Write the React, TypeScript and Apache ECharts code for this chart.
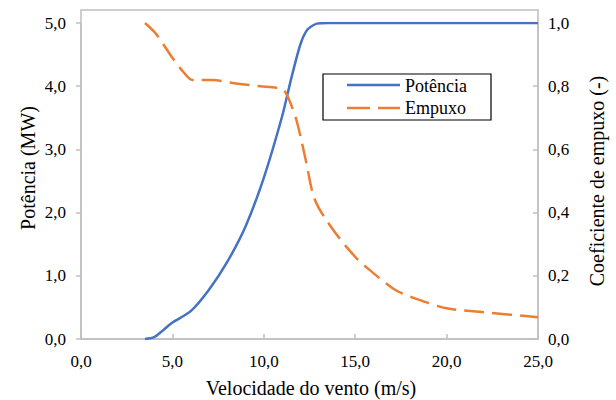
import React, { useEffect, useRef } from "react";
import * as echarts from "echarts";

const powerWind = [3.5, 4.0, 4.5, 5.0, 6.0, 7.0, 8.0, 9.0, 10.0, 11.0, 11.5, 12.0, 12.4, 12.9, 13.5, 25.0];
const powerMW = [0.0, 0.03, 0.14, 0.26, 0.44, 0.78, 1.22, 1.78, 2.55, 3.52, 4.12, 4.66, 4.9, 4.99, 5.0, 5.0];

const thrustWind = [3.5, 4.1, 5.0, 5.6, 6.1, 7.2, 8.3, 9.8, 10.7, 11.1, 11.4, 11.8, 12.3, 12.8, 13.8, 15.0, 15.8, 17.2, 18.3, 20.0, 21.8, 25.0];
const thrustCoef = [1.0, 0.966, 0.89, 0.845, 0.82, 0.82, 0.81, 0.80, 0.795, 0.787, 0.755, 0.69, 0.565, 0.44, 0.345, 0.26, 0.218, 0.155, 0.128, 0.097, 0.086, 0.069];

const legendNames = ["Potência", "Empuxo"];
const xName = "Velocidade do vento (m/s)";
const yLeftName = "Potência (MW)";
const yRightName = "Coeficiente de empuxo (-)";

const FONT = "'Times New Roman', 'Liberation Serif', serif";
const BLUE = "#4472C4";
const ORANGE = "#ED7D31";
const AXIS = "#BFBFBF";

const fmt = (v: number) => v.toFixed(1).replace(".", ",");

export default function App() {
  const ref = useRef<HTMLDivElement>(null);
  useEffect(() => {
    if (!ref.current) return;
    const chart = echarts.init(ref.current, undefined, { renderer: "svg" });
    const labelStyle = { color: "#000", fontFamily: FONT, fontSize: 17 };
    const titleStyle = { fill: "#000", fontFamily: FONT, fontSize: 20, align: "center", verticalAlign: "middle" };
    chart.setOption({
      animation: false,
      backgroundColor: "#fff",
      textStyle: { fontFamily: FONT },
      grid: { left: 81, right: 78, top: 23, bottom: 61 },
      xAxis: {
        type: "value",
        min: 0,
        max: 25,
        interval: 5,
        axisLine: { lineStyle: { color: AXIS, width: 1.5 } },
        axisTick: { inside: true, length: 5, lineStyle: { color: AXIS, width: 1.5 } },
        axisLabel: { ...labelStyle, margin: 14, formatter: fmt },
        splitLine: { show: false },
      },
      yAxis: [
        {
          type: "value",
          min: 0,
          max: 5,
          interval: 1,
          axisLine: { show: true, lineStyle: { color: AXIS, width: 1.5 } },
          axisTick: { show: true, length: 5, lineStyle: { color: AXIS, width: 1.5 } },
          axisLabel: { ...labelStyle, margin: 15, formatter: fmt },
          splitLine: { show: false },
        },
        {
          type: "value",
          min: 0,
          max: 1,
          interval: 0.2,
          position: "right",
          axisLine: { show: true, lineStyle: { color: AXIS, width: 1.5 } },
          axisTick: { show: true, inside: true, length: 5, lineStyle: { color: AXIS, width: 1.5 } },
          axisLabel: { ...labelStyle, margin: 10, formatter: fmt },
          splitLine: { show: false },
        },
      ],
      series: [
        {
          name: legendNames[0],
          type: "line",
          yAxisIndex: 0,
          smooth: 0.25,
          showSymbol: false,
          symbol: "none",
          lineStyle: { color: BLUE, width: 2.5 },
          data: powerWind.map((x, i) => [x, powerMW[i]]),
        },
        {
          name: legendNames[1],
          type: "line",
          yAxisIndex: 1,
          smooth: 0.3,
          showSymbol: false,
          symbol: "none",
          lineStyle: { color: ORANGE, width: 2.5, type: [20, 8] },
          data: thrustWind.map((x, i) => [x, thrustCoef[i]]),
        },
      ],
      graphic: [
        {
          type: "rect",
          shape: { x: 81, y: 10, width: 457, height: 329 },
          style: { fill: "none", stroke: AXIS, lineWidth: 1.5 },
          silent: true,
        },
        { type: "text", x: 311, y: 388, style: { ...titleStyle, text: xName } },
        { type: "text", x: 28, y: 168, rotation: Math.PI / 2, style: { ...titleStyle, text: yLeftName } },
        { type: "text", x: 597, y: 181, rotation: Math.PI / 2, style: { ...titleStyle, text: yRightName } },
        {
          type: "rect",
          shape: { x: 323, y: 74, width: 168, height: 46 },
          style: { fill: "#fff", stroke: "#000", lineWidth: 1.2 },
          z: 10,
        },
        {
          type: "line",
          shape: { x1: 347, y1: 85, x2: 400, y2: 85 },
          style: { stroke: BLUE, lineWidth: 2.5 },
          z: 11,
        },
        {
          type: "line",
          shape: { x1: 347, y1: 108, x2: 400, y2: 108 },
          style: { stroke: ORANGE, lineWidth: 2.5, lineDash: [23, 8] },
          z: 11,
        },
        {
          type: "text",
          x: 405,
          y: 86,
          style: { text: legendNames[0], fill: "#000", fontFamily: FONT, fontSize: 18, verticalAlign: "middle" },
          z: 11,
        },
        {
          type: "text",
          x: 405,
          y: 108,
          style: { text: legendNames[1], fill: "#000", fontFamily: FONT, fontSize: 18, verticalAlign: "middle" },
          z: 11,
        },
      ],
    });
    return () => chart.dispose();
  }, []);
  return <div ref={ref} style={{ position: "absolute", left: 0, top: 0, width: 616, height: 400 }} />;
}
